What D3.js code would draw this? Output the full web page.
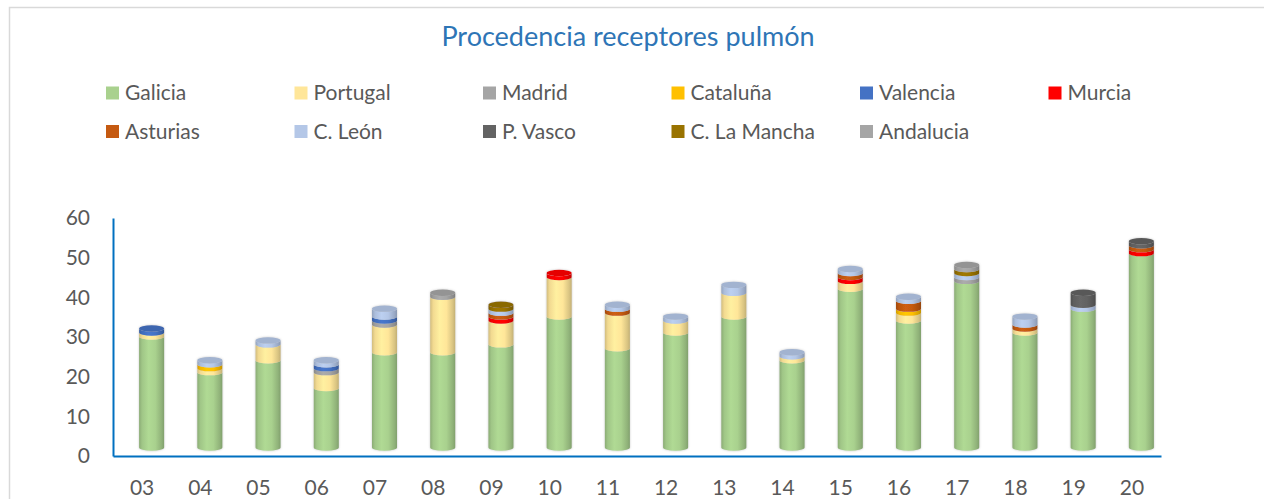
<!DOCTYPE html>
<html>
<head>
<meta charset="utf-8">
<script src="https://cdn.jsdelivr.net/npm/d3@7"></script>
<style>
  body { margin: 0; background: #fff; }
  svg { display: block; font-family: Lato, "Open Sans", sans-serif; }
</style>
</head>
<body>
<div id="vis"></div>
<script>
// chart size
const FRAME_WIDTH = 1264;
const FRAME_HEIGHT = 499;
const PLOT = {left: 113, right: 1161, top: 218, bottom: 456};

// data, bottom to top of each column
const years = ["03", "04", "05", "06", "07", "08", "09", "10", "11",
               "12", "13", "14", "15", "16", "17", "18", "19", "20"];
const seriesNames = ["Galicia", "Portugal", "Madrid", "Cataluña", "Valencia", "Murcia",
                     "Asturias", "C. León", "P. Vasco", "C. La Mancha", "Andalucia"];
const galicia    = [28, 19, 22, 15, 24, 24, 26, 33, 25, 29, 33, 22, 40, 32, 42, 29, 35, 49];
const portugal   = [1, 1, 4, 4, 7, 14, 6, 10, 9, 3, 6, 1, 2, 2, 0, 1, 0, 0];
const madrid     = [0, 0, 0, 1, 1, 1, 0, 0, 0, 0, 0, 0, 0, 0, 1, 0, 0, 0];
const cataluna   = [0, 1, 0, 0, 0, 0, 0, 0, 0, 0, 0, 0, 0, 1, 0, 0, 0, 0];
const valencia   = [1, 0, 0, 1, 1, 0, 0, 0, 0, 0, 0, 0, 0, 0, 0, 0, 0, 0];
const murcia     = [0, 0, 0, 0, 0, 0, 1, 1, 0, 0, 0, 0, 1, 0, 0, 0, 0, 1];
const asturias   = [0, 0, 0, 0, 0, 0, 1, 0, 1, 0, 0, 0, 1, 2, 0, 1, 0, 1];
const cLeon      = [0, 1, 1, 1, 2, 0, 1, 0, 1, 1, 2, 1, 1, 1, 1, 2, 1, 0];
const pVasco     = [0, 0, 0, 0, 0, 0, 0, 0, 0, 0, 0, 0, 0, 0, 0, 0, 3, 1];
const cLaMancha  = [0, 0, 0, 0, 0, 0, 1, 0, 0, 0, 0, 0, 0, 0, 1, 0, 0, 0];
const andalucia  = [0, 0, 0, 0, 0, 0, 0, 0, 0, 0, 0, 0, 0, 0, 1, 0, 0, 0];
const yTicks = [0, 10, 20, 30, 40, 50, 60];

const seriesValues = [galicia, portugal, madrid, cataluna, valencia, murcia,
                      asturias, cLeon, pVasco, cLaMancha, andalucia];
const colors = ["#A9D18E", "#FFE699", "#A5A5A5", "#FFC000", "#4472C4", "#FF0000",
                "#C55A11", "#B4C7E7", "#636363", "#997300", "#A5A5A5"];

const TEXT_COLOR = "#595959";
const AXIS_COLOR = "#0070C0";

// one row per year, keyed by series name, for d3.stack
const table = years.map((y, i) => {
  const row = {year: y};
  seriesNames.forEach((s, k) => { row[s] = seriesValues[k][i]; });
  return row;
});
const stacked = d3.stack().keys(seriesNames)(table);

const svg = d3.select("#vis")
  .append("svg")
    .attr("width", FRAME_WIDTH)
    .attr("height", FRAME_HEIGHT);

// chart border (only top and left show in the frame)
svg.append("rect")
  .attr("x", 9.5).attr("y", 7.5)
  .attr("width", FRAME_WIDTH).attr("height", FRAME_HEIGHT)
  .attr("fill", "none")
  .attr("stroke", "#D9D9D9")
  .attr("stroke-width", 1.5);

// title
svg.append("text")
  .attr("x", 628).attr("y", 46)
  .attr("text-anchor", "middle")
  .attr("font-size", 27)
  .attr("fill", "#2E75B6")
  .text("Procedencia receptores pulmón");

// legend, 6 columns x 2 rows
const legend = svg.append("g");
seriesNames.forEach((name, k) => {
  const col = k % 6, row = Math.floor(k / 6);
  const lx = 106 + col * 188.5, ly = 93 + row * 38.5;
  legend.append("rect")
    .attr("x", lx).attr("y", ly - 6.5)
    .attr("width", 13).attr("height", 13)
    .attr("fill", colors[k]);
  legend.append("text")
    .attr("x", lx + 19).attr("y", ly - 1.5)
    .attr("dominant-baseline", "central")
    .attr("font-size", 21)
    .attr("fill", TEXT_COLOR)
    .text(name);
});

// scales
const X_SCALE = d3.scaleBand().domain(years).range([PLOT.left, PLOT.right]);
const Y_SCALE = d3.scaleLinear().domain([0, 60]).range([PLOT.bottom, PLOT.top]);

// 3D look: columns sit a bit behind the axis plane
const DEPTH_X = 9.5, DEPTH_Y = 8.5;
const R_X = 12.5, R_Y = 3.2;
const cx = (d) => X_SCALE(d) + X_SCALE.bandwidth() / 2 + DEPTH_X;
const cy = (v) => Y_SCALE(v) - DEPTH_Y;

// cylinder shading gradients and a soft halo
const defs = svg.append("defs");
colors.forEach((c, k) => {
  const g = defs.append("linearGradient")
    .attr("id", "cyl" + k)
    .attr("x1", "0%").attr("x2", "100%").attr("y1", "0%").attr("y2", "0%");
  const base = d3.color(c);
  [[0, base.darker(0.55)], [0.12, base.darker(0.15)], [0.38, base.brighter(0.12)],
   [0.65, base], [0.9, base.darker(0.45)], [1, base.darker(0.75)]].forEach(([o, col]) => {
    g.append("stop").attr("offset", o).attr("stop-color", col.formatHex());
  });
});
defs.append("filter")
  .attr("id", "halo")
  .attr("x", "-30%").attr("y", "-10%").attr("width", "160%").attr("height", "120%")
  .append("feDropShadow")
    .attr("dx", 0).attr("dy", 0)
    .attr("stdDeviation", 1.2)
    .attr("flood-color", "#808080")
    .attr("flood-opacity", 0.45);

// front face of a cylinder slice between v0 and v1
function slicePath(x, v0, v1) {
  const yt = cy(v1), yb = cy(v0);
  return "M" + (x - R_X) + "," + yt +
         "L" + (x - R_X) + "," + yb +
         "A" + R_X + "," + R_Y + " 0 0 0 " + (x + R_X) + "," + yb +
         "L" + (x + R_X) + "," + yt +
         "A" + R_X + "," + R_Y + " 0 0 1 " + (x - R_X) + "," + yt + "Z";
}

const bars = svg.append("g").attr("filter", "url(#halo)");
stacked.forEach((layer, k) => {
  bars.append("g")
    .selectAll("path")
    .data(layer.filter((d) => d[1] > d[0]))
    .enter()
    .append("path")
      .attr("d", (d) => slicePath(cx(d.data.year), d[0], d[1]))
      .attr("fill", "url(#cyl" + k + ")");
});

// top caps take the colour of the highest slice
const tops = years.map((y, i) => {
  let k = seriesNames.length - 1;
  while (k > 0 && seriesValues[k][i] === 0) k--;
  return {year: y, total: d3.sum(seriesValues, (s) => s[i]), k: k};
});
bars.selectAll("ellipse")
  .data(tops)
  .enter()
  .append("ellipse")
    .attr("cx", (d) => cx(d.year))
    .attr("cy", (d) => cy(d.total))
    .attr("rx", R_X)
    .attr("ry", R_Y)
    .attr("fill", (d) => d3.color(colors[d.k]).darker(0.3).formatHex());

// axes
const yAxis = svg.append("g")
  .attr("transform", "translate(" + PLOT.left + ",0)")
  .call(d3.axisLeft(Y_SCALE).tickValues(yTicks).tickSize(0).tickPadding(23));
const xAxis = svg.append("g")
  .attr("transform", "translate(0," + PLOT.bottom + ")")
  .call(d3.axisBottom(X_SCALE).tickSize(0).tickPadding(24));

[yAxis, xAxis].forEach((ax) => {
  ax.select(".domain").attr("stroke", AXIS_COLOR).attr("stroke-width", 2);
  ax.selectAll("text")
    .attr("font-family", "Lato, 'Open Sans', sans-serif")
    .attr("font-size", 21)
    .attr("fill", TEXT_COLOR);
});
</script>
</body>
</html>
